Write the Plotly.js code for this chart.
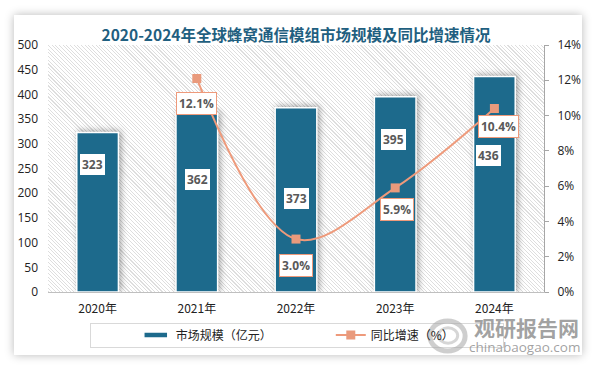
<!DOCTYPE html>
<html><head><meta charset="utf-8">
<script src="https://cdn.plot.ly/plotly-3.0.1.min.js"></script>
<style>
html,body{margin:0;padding:0;background:#fff;}
#wrap{position:relative;width:595px;height:366px;overflow:hidden;}
#card{position:absolute;left:14px;top:15px;width:568px;height:340px;background:#fff;box-shadow:0 0 9px rgba(0,0,0,0.28);}
#hatch{position:absolute;left:48px;top:45px;width:496px;height:247px;
 background:repeating-linear-gradient(45deg,#dedede 0px,#dedede 0.8px,#ffffff 0.8px,#ffffff 2.6px);}
#legbox{position:absolute;left:90px;top:323px;width:412px;height:23px;border:1px solid #d9d9d9;}
#chart{position:absolute;left:0;top:0;width:595px;height:366px;}
.bars .point path{filter:drop-shadow(2px -1px 3px rgba(0,0,0,0.35));}
</style></head>
<body><div id="wrap"><div id="card"></div><div id="hatch"></div><div id="legbox"></div><div id="chart"></div></div>
<script>
// ---- data ----
const years = ['2020年','2021年','2022年','2023年','2024年'];
const marketSize = [323, 362, 373, 395, 436];           // 亿元
const growthYears = ['2021年','2022年','2023年','2024年'];
const growthRate = [12.1, 3.0, 5.9, 10.4];               // %
const barName = '市场规模（亿元）';
const lineName = '同比增速（%）';
const titleText = '2020-2024年全球蜂窝通信模组市场规模及同比增速情况';

// label placement offsets (pixels) — styling only
const barLabelDx = [-5, 1, 0, -2, -6];
const barLabelDy = [-32, -66, -91, -43, -79];
const rateLabelDx = [0, 0, 2, 4];
const rateLabelDy = [-25, -26, -22, -18];

const barColor = '#1D6A8C';
const lineColor = '#EE9A7B';
const font = 'Noto Sans CJK SC, sans-serif';
const wmColor = 'rgba(145,145,145,0.85)';

const annotations = [];
years.forEach((y, i) => {
  annotations.push({x: y, y: marketSize[i], xref: 'x', yref: 'y', text: String(marketSize[i]),
    showarrow: false, xshift: barLabelDx[i], yshift: barLabelDy[i],
    font: {family: 'Open Sans, sans-serif', size: 12, color: '#595959', weight: 'bold'},
    bgcolor: '#ffffff', bordercolor: barColor, borderwidth: 1, borderpad: 2});
});
growthYears.forEach((y, i) => {
  annotations.push({x: y, y: growthRate[i], xref: 'x', yref: 'y2', text: growthRate[i].toFixed(1) + '%',
    showarrow: false, xshift: rateLabelDx[i], yshift: rateLabelDy[i],
    font: {family: 'Open Sans, sans-serif', size: 12, color: '#595959', weight: 'bold'},
    bgcolor: '#ffffff', bordercolor: lineColor, borderwidth: 1, borderpad: 2});
});
annotations.push({xref: 'paper', yref: 'paper', x: 0.855, y: -0.142, xanchor: 'left', yanchor: 'middle',
  text: '观研报告网', showarrow: false,
  font: {family: font, size: 21, color: wmColor, weight: 'bold'}});
annotations.push({xref: 'paper', yref: 'paper', x: 0.845, y: -0.223, xanchor: 'left', yanchor: 'middle',
  text: 'chinabaogao.com', showarrow: false,
  font: {family: 'Open Sans, sans-serif', size: 13.5, color: wmColor}});

const shapes = [
  {type: 'circle', xref: 'paper', yref: 'paper', x0: 0.770, x1: 0.841, y0: -0.239, y1: -0.117,
   line: {color: 'rgba(165,165,165,0.55)', width: 5}, fillcolor: 'rgba(0,0,0,0)'},
  {type: 'circle', xref: 'paper', yref: 'paper', x0: 0.787, x1: 0.826, y0: -0.207, y1: -0.145,
   line: {color: 'rgba(165,165,165,0.45)', width: 3}, fillcolor: 'rgba(0,0,0,0)'}
];

const traces = [
  {type: 'bar', name: barName, x: years, y: marketSize,
   marker: {color: barColor, line: {color: '#ffffff', width: 1.5}}, hoverinfo: 'none'},
  {type: 'scatter', name: lineName, x: growthYears, y: growthRate, yaxis: 'y2',
   mode: 'lines+markers', line: {color: lineColor, width: 2, shape: 'spline', smoothing: 1},
   marker: {symbol: 'square', size: 9, color: '#E99A7C'}, hoverinfo: 'none'}
];

const layout = {
  width: 595, height: 366,
  margin: {l: 48, r: 51, t: 45, b: 74},
  paper_bgcolor: 'rgba(0,0,0,0)', plot_bgcolor: 'rgba(0,0,0,0)',
  font: {family: font, size: 12, color: '#222'},
  title: {text: titleText, x: 0.5, xref: 'paper', xanchor: 'center', y: 0.918, yref: 'container',
    font: {family: font, size: 15.5, color: '#1F5F80', weight: 'bold'}},
  bargap: 0.58,
  showlegend: true,
  legend: {orientation: 'h', x: 0.177, xanchor: 'left', y: -0.174, yanchor: 'middle',
    font: {family: font, size: 12, color: '#222'}, entrywidth: 150, bgcolor: 'rgba(0,0,0,0)'},
  xaxis: {type: 'category', categoryorder: 'array', categoryarray: years, range: [-0.5, 4.5],
    showline: true, linecolor: '#bfbfbf', linewidth: 1, ticks: '', showgrid: false,
    tickfont: {family: font, size: 12, color: '#222'}, ticklabelstandoff: 6},
  yaxis: {range: [0, 500], dtick: 50, showgrid: false, zeroline: false, showline: false, ticks: '',
    tickfont: {family: 'Open Sans, sans-serif', size: 12, color: '#222'}, ticklabelstandoff: 9},
  yaxis2: {overlaying: 'y', side: 'right', range: [0, 14], dtick: 2, ticksuffix: '%',
    showgrid: false, zeroline: false, showline: true, linecolor: '#a6a6a6', linewidth: 1,
    ticks: 'outside', ticklen: 4, tickcolor: '#a6a6a6', ticklabelstandoff: 6,
    tickfont: {family: 'Open Sans, sans-serif', size: 12, color: '#222'}},
  annotations: annotations,
  shapes: shapes
};

Plotly.newPlot('chart', traces, layout, {staticPlot: true}).then(() => {
  const tr = document.querySelectorAll('#chart .legend .traces');
  if (tr[0]) tr[0].querySelectorAll('.legendpoints path').forEach(p => p.setAttribute('d', 'M12,3H-12V-3H12Z'));
});
</script></body></html>
